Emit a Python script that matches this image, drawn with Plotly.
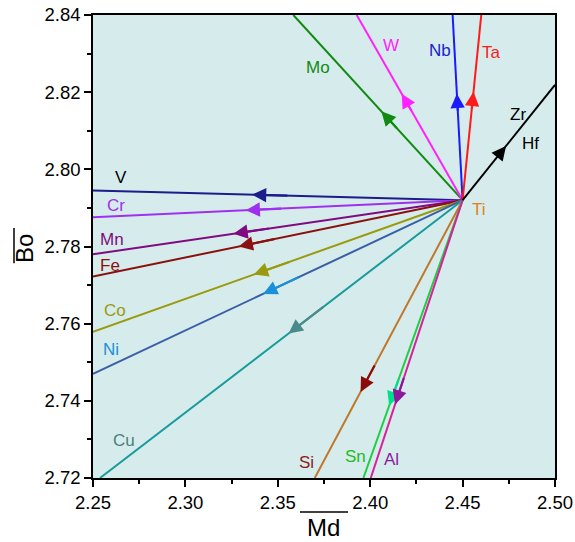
import plotly.graph_objects as go

# Ti reference point
ti_x, ti_y = 2.450, 2.792

elements = ["V", "Cr", "Mn", "Fe", "Co", "Ni", "Cu", "Si", "Sn", "Al", "Mo", "W", "Nb", "Ta", "Hf"]
end_x = [2.25, 2.25, 2.25, 2.25, 2.25, 2.25, 2.2538, 2.370, 2.3963, 2.4003, 2.3584, 2.3927, 2.4446, 2.4601, 2.50]
end_y = [2.7945, 2.7876, 2.7780, 2.7722, 2.7579, 2.7470, 2.72, 2.72, 2.72, 2.72, 2.84, 2.84, 2.84, 2.84, 2.8219]
line_colors = ["#1c1c8a", "#a030f0", "#800a80", "#8b1010", "#9a9a10", "#3a5fa8", "#1a9a9a",
               "#c0782a", "#22cc44", "#d8209a", "#108a10", "#ff22ff", "#1a1aff", "#ff1a1a", "#000000"]
arrow_colors = ["#1c1c8a", "#a030f0", "#800a80", "#8b1010", "#9a9a10", "#1a90d8", "#4a8a8a",
                "#8b0a0a", "#00e08a", "#8a1a9a", "#108a10", "#ff22ff", "#1a1aff", "#ff1a1a", "#000000"]
arrow_frac = [0.57, 0.587, 0.62, 0.606, 0.565, 0.54, 0.48, 0.69, 0.74, 0.735, 0.48, 0.575, 0.575, 0.585, 0.47]

labels = ["V", "Cr", "Mn", "Fe", "Co", "Ni", "Cu", "Si", "Sn", "Al", "Mo", "W", "Nb", "Ta", "Zr", "Hf", "Ti"]
label_x = [2.2652, 2.2624, 2.2603, 2.2592, 2.2619, 2.2597, 2.2668, 2.3653, 2.3918, 2.4113,
           2.3718, 2.4113, 2.4378, 2.4659, 2.480, 2.4865, 2.4589]
label_y = [2.7980, 2.7907, 2.7817, 2.7752, 2.7635, 2.7534, 2.7298, 2.7239, 2.7257, 2.7247,
           2.8263, 2.8322, 2.8309, 2.8304, 2.8141, 2.8068, 2.7897]
label_colors = ["#000000", "#a030f0", "#800a80", "#8b1010", "#9a9a10", "#1a90d8", "#4a7f7f",
                "#8b1a1a", "#22bb22", "#8a1a9a", "#108a10", "#ff22ff", "#2020d0", "#ff1a1a",
                "#000000", "#000000", "#e08020"]

x_ticks = [2.25, 2.30, 2.35, 2.40, 2.45, 2.50]
y_ticks = [2.72, 2.74, 2.76, 2.78, 2.80, 2.82, 2.84]

FONT = "Liberation Sans, Arial"

fig = go.Figure()
annotations = []
for i, el in enumerate(elements):
    fig.add_trace(go.Scatter(x=[ti_x, end_x[i]], y=[ti_y, end_y[i]], mode="lines",
                             line=dict(color=line_colors[i], width=2), showlegend=False,
                             hoverinfo="skip"))
    f = arrow_frac[i]
    hx = ti_x + f * (end_x[i] - ti_x)
    hy = ti_y + f * (end_y[i] - ti_y)
    g = f - 0.1
    tx = ti_x + g * (end_x[i] - ti_x)
    ty = ti_y + g * (end_y[i] - ti_y)
    annotations.append(dict(x=hx, y=hy, ax=tx, ay=ty, xref="x", yref="y", axref="x", ayref="y",
                            text="", showarrow=True, arrowhead=2, arrowsize=1.3, arrowwidth=2.2,
                            arrowcolor=arrow_colors[i], standoff=0, startstandoff=0))

for i, lab in enumerate(labels):
    annotations.append(dict(x=label_x[i], y=label_y[i], xref="x", yref="y", text=lab,
                            showarrow=False, xanchor="center", yanchor="middle",
                            font=dict(size=17, color=label_colors[i], family=FONT)))

annotations.append(dict(x=0.498, y=-0.106, xref="paper", yref="paper", text="Md", showarrow=False,
                        xanchor="center", yanchor="middle",
                        font=dict(size=24, color="black", family=FONT)))
annotations.append(dict(x=-0.147, y=0.495, xref="paper", yref="paper", text="Bo", showarrow=False,
                        textangle=-90, xanchor="center", yanchor="middle",
                        font=dict(size=24, color="black", family=FONT)))

shapes = [
    dict(type="line", xref="paper", yref="paper", x0=0.448, x1=0.552, y0=-0.0734, y1=-0.0734,
         line=dict(color="black", width=1.5)),
    dict(type="line", xref="paper", yref="paper", x0=-0.171, x1=-0.171, y0=0.464, y1=0.54,
         line=dict(color="black", width=1.5)),
]

fig.update_layout(
    width=575, height=542,
    margin=dict(l=93, r=20, t=15, b=64, autoexpand=False),
    paper_bgcolor="white",
    plot_bgcolor="#d6ecec",
    annotations=annotations,
    shapes=shapes,
    font=dict(family=FONT, size=18.5, color="black"),
)
fig.update_xaxes(range=[2.25, 2.50], tickvals=x_ticks, ticktext=[f"{v:.2f}" for v in x_ticks],
                 ticks="outside", ticklen=7, tickwidth=1.5, tickcolor="black", automargin=False,
                 tickfont=dict(size=18.5, family=FONT),
                 minor=dict(tickvals=[2.275, 2.325, 2.375, 2.425, 2.475], ticks="outside", ticklen=4,
                            tickcolor="black", tickwidth=1.5),
                 showline=True, linecolor="black", linewidth=1.5, mirror=True, showgrid=False,
                 zeroline=False)
fig.update_yaxes(range=[2.72, 2.84], tickvals=y_ticks, ticktext=[f"{v:.2f}" for v in y_ticks],
                 ticks="outside", ticklen=7, tickwidth=1.5, tickcolor="black", automargin=False,
                 tickfont=dict(size=18.5, family=FONT),
                 minor=dict(tickvals=[2.73, 2.75, 2.77, 2.79, 2.81, 2.83], ticks="outside", ticklen=4,
                            tickcolor="black", tickwidth=1.5),
                 showline=True, linecolor="black", linewidth=1.5, mirror=True, showgrid=False,
                 zeroline=False)

fig.write_html("out.html")
